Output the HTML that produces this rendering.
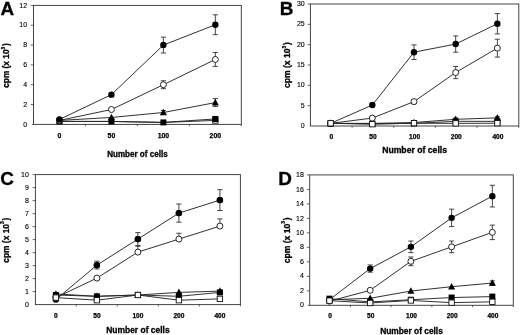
<!DOCTYPE html>
<html><head><meta charset="utf-8"><title>Figure</title>
<style>
html,body{margin:0;padding:0;background:#fff;width:520px;height:335px;overflow:hidden;}
svg{display:block;font-family:"Liberation Sans",sans-serif;filter:blur(0.35px);}
</style>
</head><body>
<svg width="520" height="335" viewBox="0 0 520 335">
<rect width="520" height="335" fill="#fff"/>
<g>
<text transform="translate(0.6,15.30) scale(1.05,1)" font-size="18" font-weight="bold" fill="#000" stroke="#000" stroke-width="0.3">A</text>
<rect x="33.5" y="5.4" width="207.80" height="119.00" fill="none" stroke="#3c3c3c" stroke-width="0.95"/>
<line x1="32.00" y1="124.40" x2="33.5" y2="124.40" stroke="#262626" stroke-width="0.7"/>
<text x="27.10" y="126.55" font-size="7" text-anchor="end" fill="#000" stroke="#000" stroke-width="0.12">0</text>
<line x1="30.70" y1="104.57" x2="33.5" y2="104.57" stroke="#262626" stroke-width="0.7"/>
<text x="27.10" y="106.72" font-size="7" text-anchor="end" fill="#000" stroke="#000" stroke-width="0.12">2</text>
<line x1="30.70" y1="84.73" x2="33.5" y2="84.73" stroke="#262626" stroke-width="0.7"/>
<text x="27.10" y="86.88" font-size="7" text-anchor="end" fill="#000" stroke="#000" stroke-width="0.12">4</text>
<line x1="30.70" y1="64.90" x2="33.5" y2="64.90" stroke="#262626" stroke-width="0.7"/>
<text x="27.10" y="67.05" font-size="7" text-anchor="end" fill="#000" stroke="#000" stroke-width="0.12">6</text>
<line x1="30.70" y1="45.07" x2="33.5" y2="45.07" stroke="#262626" stroke-width="0.7"/>
<text x="27.10" y="47.22" font-size="7" text-anchor="end" fill="#000" stroke="#000" stroke-width="0.12">8</text>
<line x1="30.70" y1="25.23" x2="33.5" y2="25.23" stroke="#262626" stroke-width="0.7"/>
<text x="27.10" y="27.38" font-size="7" text-anchor="end" fill="#000" stroke="#000" stroke-width="0.12">10</text>
<line x1="30.70" y1="5.40" x2="33.5" y2="5.40" stroke="#262626" stroke-width="0.7"/>
<text x="27.10" y="7.55" font-size="7" text-anchor="end" fill="#000" stroke="#000" stroke-width="0.12">12</text>
<line x1="85.45" y1="124.4" x2="85.45" y2="126.20" stroke="#262626" stroke-width="0.7"/>
<line x1="137.40" y1="124.4" x2="137.40" y2="126.20" stroke="#262626" stroke-width="0.7"/>
<line x1="189.35" y1="124.4" x2="189.35" y2="126.20" stroke="#262626" stroke-width="0.7"/>
<line x1="241.30" y1="124.4" x2="241.30" y2="126.20" stroke="#262626" stroke-width="0.7"/>
<text x="59.48" y="137.50" font-size="6.9" font-weight="bold" text-anchor="middle" fill="#000" stroke="#000" stroke-width="0.25">0</text>
<text x="111.43" y="137.50" font-size="6.9" font-weight="bold" text-anchor="middle" fill="#000" stroke="#000" stroke-width="0.25">50</text>
<text x="163.38" y="137.50" font-size="6.9" font-weight="bold" text-anchor="middle" fill="#000" stroke="#000" stroke-width="0.25">100</text>
<text x="215.33" y="137.50" font-size="6.9" font-weight="bold" text-anchor="middle" fill="#000" stroke="#000" stroke-width="0.25">200</text>
<text transform="translate(137.40,157.2) scale(0.972,1)" font-size="8.3" font-weight="bold" text-anchor="middle" fill="#000" stroke="#000" stroke-width="0.3">Number of cells</text>
<text transform="translate(9.2,65.50) rotate(-90)" font-size="8.30" font-weight="bold" text-anchor="middle" fill="#000" stroke="#000" stroke-width="0.3">cpm (x 10<tspan font-size="4.77" dy="-4.67">3</tspan><tspan dx="0.83" dy="4.67">)</tspan></text>
<polyline points="59.48,121.43 111.43,121.43 163.38,122.42 215.33,120.43" fill="none" stroke="#262626" stroke-width="0.95"/>
<rect x="212.63" y="117.73" width="5.4" height="5.4" fill="#fff" stroke="#111" stroke-width="0.9"/>
<polyline points="59.48,121.43 111.43,121.43 163.38,122.42 215.33,118.95" fill="none" stroke="#262626" stroke-width="0.95"/>
<rect x="56.48" y="118.43" width="6" height="6" fill="#000"/>
<rect x="108.43" y="118.43" width="6" height="6" fill="#000"/>
<rect x="160.38" y="119.42" width="6" height="6" fill="#000"/>
<rect x="212.33" y="115.95" width="6" height="6" fill="#000"/>
<polyline points="59.48,120.43 111.43,117.46 163.38,112.50 215.33,102.58" fill="none" stroke="#262626" stroke-width="0.95"/>
<path d="M163.38 110.52V114.48M160.78 110.52h5.2M160.78 114.48h5.2" stroke="#262626" stroke-width="0.85" fill="none"/>
<path d="M215.33 98.62V106.55M212.73 98.62h5.2M212.73 106.55h5.2" stroke="#262626" stroke-width="0.85" fill="none"/>
<path d="M59.48 116.63L62.98 123.23H55.98Z" fill="#000"/>
<path d="M111.43 113.66L114.93 120.26H107.93Z" fill="#000"/>
<path d="M163.38 108.70L166.88 115.30H159.88Z" fill="#000"/>
<path d="M215.33 98.78L218.83 105.38H211.83Z" fill="#000"/>
<polyline points="59.48,120.43 111.43,109.53 163.38,84.73 215.33,59.45" fill="none" stroke="#262626" stroke-width="0.95"/>
<path d="M163.38 80.77V88.70M160.78 80.77h5.2M160.78 88.70h5.2" stroke="#262626" stroke-width="0.85" fill="none"/>
<path d="M215.33 52.50V66.39M212.73 52.50h5.2M212.73 66.39h5.2" stroke="#262626" stroke-width="0.85" fill="none"/>
<circle cx="59.48" cy="120.43" r="3.0" fill="#fff" stroke="#111" stroke-width="0.9"/>
<circle cx="111.43" cy="109.53" r="3.0" fill="#fff" stroke="#111" stroke-width="0.9"/>
<circle cx="163.38" cy="84.73" r="3.0" fill="#fff" stroke="#111" stroke-width="0.9"/>
<circle cx="215.33" cy="59.45" r="3.0" fill="#fff" stroke="#111" stroke-width="0.9"/>
<polyline points="59.48,119.44 111.43,94.65 163.38,45.07 215.33,24.74" fill="none" stroke="#262626" stroke-width="0.95"/>
<path d="M163.38 37.13V53.00M160.78 37.13h5.2M160.78 53.00h5.2" stroke="#262626" stroke-width="0.85" fill="none"/>
<path d="M215.33 14.82V34.65M212.73 14.82h5.2M212.73 34.65h5.2" stroke="#262626" stroke-width="0.85" fill="none"/>
<circle cx="59.48" cy="119.44" r="3.2" fill="#000"/>
<circle cx="111.43" cy="94.65" r="3.2" fill="#000"/>
<circle cx="163.38" cy="45.07" r="3.2" fill="#000"/>
<circle cx="215.33" cy="24.74" r="3.2" fill="#000"/>
</g>
<g>
<text transform="translate(279.7,14.70) scale(1.05,1)" font-size="18" font-weight="bold" fill="#000" stroke="#000" stroke-width="0.3">B</text>
<rect x="310.4" y="4.0" width="208.40" height="122.00" fill="none" stroke="#3c3c3c" stroke-width="0.95"/>
<text x="304.70" y="128.15" font-size="7" text-anchor="end" fill="#000" stroke="#000" stroke-width="0.12">0</text>
<line x1="307.60" y1="105.67" x2="310.4" y2="105.67" stroke="#262626" stroke-width="0.7"/>
<text x="304.70" y="107.82" font-size="7" text-anchor="end" fill="#000" stroke="#000" stroke-width="0.12">5</text>
<line x1="307.60" y1="85.33" x2="310.4" y2="85.33" stroke="#262626" stroke-width="0.7"/>
<text x="304.70" y="87.48" font-size="7" text-anchor="end" fill="#000" stroke="#000" stroke-width="0.12">10</text>
<line x1="307.60" y1="65.00" x2="310.4" y2="65.00" stroke="#262626" stroke-width="0.7"/>
<text x="304.70" y="67.15" font-size="7" text-anchor="end" fill="#000" stroke="#000" stroke-width="0.12">15</text>
<line x1="307.60" y1="44.67" x2="310.4" y2="44.67" stroke="#262626" stroke-width="0.7"/>
<text x="304.70" y="46.82" font-size="7" text-anchor="end" fill="#000" stroke="#000" stroke-width="0.12">20</text>
<line x1="307.60" y1="24.33" x2="310.4" y2="24.33" stroke="#262626" stroke-width="0.7"/>
<text x="304.70" y="26.48" font-size="7" text-anchor="end" fill="#000" stroke="#000" stroke-width="0.12">25</text>
<line x1="307.60" y1="4.00" x2="310.4" y2="4.00" stroke="#262626" stroke-width="0.7"/>
<text x="304.70" y="6.15" font-size="7" text-anchor="end" fill="#000" stroke="#000" stroke-width="0.12">30</text>
<line x1="352.08" y1="126" x2="352.08" y2="127.80" stroke="#262626" stroke-width="0.7"/>
<line x1="393.76" y1="126" x2="393.76" y2="127.80" stroke="#262626" stroke-width="0.7"/>
<line x1="435.44" y1="126" x2="435.44" y2="127.80" stroke="#262626" stroke-width="0.7"/>
<line x1="477.12" y1="126" x2="477.12" y2="127.80" stroke="#262626" stroke-width="0.7"/>
<line x1="518.80" y1="126" x2="518.80" y2="127.80" stroke="#262626" stroke-width="0.7"/>
<text x="331.24" y="139.10" font-size="6.6" font-weight="bold" text-anchor="middle" fill="#000" stroke="#000" stroke-width="0.25">0</text>
<text x="372.92" y="139.10" font-size="6.6" font-weight="bold" text-anchor="middle" fill="#000" stroke="#000" stroke-width="0.25">50</text>
<text x="414.60" y="139.10" font-size="6.6" font-weight="bold" text-anchor="middle" fill="#000" stroke="#000" stroke-width="0.25">100</text>
<text x="456.28" y="139.10" font-size="6.6" font-weight="bold" text-anchor="middle" fill="#000" stroke="#000" stroke-width="0.25">200</text>
<text x="497.96" y="139.10" font-size="6.6" font-weight="bold" text-anchor="middle" fill="#000" stroke="#000" stroke-width="0.25">400</text>
<text transform="translate(414.60,153.4) scale(1.007,1)" font-size="8.6" font-weight="bold" text-anchor="middle" fill="#000" stroke="#000" stroke-width="0.3">Number of cells</text>
<text transform="translate(290.3,65.00) rotate(-90)" font-size="8.56" font-weight="bold" text-anchor="middle" fill="#000" stroke="#000" stroke-width="0.3">cpm (x 10<tspan font-size="4.92" dy="-4.81">3</tspan><tspan dx="0.86" dy="4.81">)</tspan></text>
<polyline points="330.64,123.37 372.32,123.37 414.00,122.55 455.68,119.30 497.36,117.88" fill="none" stroke="#262626" stroke-width="0.95"/>
<path d="M455.68 118.08V120.52M453.08 118.08h5.2M453.08 120.52h5.2" stroke="#262626" stroke-width="0.85" fill="none"/>
<path d="M497.36 116.66V119.10M494.76 116.66h5.2M494.76 119.10h5.2" stroke="#262626" stroke-width="0.85" fill="none"/>
<path d="M330.64 119.57L334.14 126.17H327.14Z" fill="#000"/>
<path d="M372.32 119.57L375.82 126.17H368.82Z" fill="#000"/>
<path d="M414.00 118.75L417.50 125.35H410.50Z" fill="#000"/>
<path d="M455.68 115.50L459.18 122.10H452.18Z" fill="#000"/>
<path d="M497.36 114.08L500.86 120.68H493.86Z" fill="#000"/>
<polyline points="330.64,123.37 372.32,123.77 414.00,123.37 455.68,121.33 497.36,121.33" fill="none" stroke="#262626" stroke-width="0.95"/>
<rect x="327.64" y="120.37" width="6" height="6" fill="#000"/>
<rect x="369.32" y="120.77" width="6" height="6" fill="#000"/>
<rect x="411.00" y="120.37" width="6" height="6" fill="#000"/>
<rect x="452.68" y="118.33" width="6" height="6" fill="#000"/>
<rect x="494.36" y="118.33" width="6" height="6" fill="#000"/>
<polyline points="330.64,123.37 372.32,118.08 414.00,101.61 455.68,72.53 497.36,48.13" fill="none" stroke="#262626" stroke-width="0.95"/>
<path d="M414.00 99.58V103.64M411.40 99.58h5.2M411.40 103.64h5.2" stroke="#262626" stroke-width="0.85" fill="none"/>
<path d="M455.68 66.43V78.63M453.08 66.43h5.2M453.08 78.63h5.2" stroke="#262626" stroke-width="0.85" fill="none"/>
<path d="M497.36 39.19V57.08M494.76 39.19h5.2M494.76 57.08h5.2" stroke="#262626" stroke-width="0.85" fill="none"/>
<circle cx="330.64" cy="123.37" r="3.0" fill="#fff" stroke="#111" stroke-width="0.9"/>
<circle cx="372.32" cy="118.08" r="3.0" fill="#fff" stroke="#111" stroke-width="0.9"/>
<circle cx="414.00" cy="101.61" r="3.0" fill="#fff" stroke="#111" stroke-width="0.9"/>
<circle cx="455.68" cy="72.53" r="3.0" fill="#fff" stroke="#111" stroke-width="0.9"/>
<circle cx="497.36" cy="48.13" r="3.0" fill="#fff" stroke="#111" stroke-width="0.9"/>
<polyline points="330.64,123.37 372.32,105.07 414.00,52.20 455.68,44.07 497.36,23.73" fill="none" stroke="#262626" stroke-width="0.95"/>
<path d="M414.00 44.88V59.52M411.40 44.88h5.2M411.40 59.52h5.2" stroke="#262626" stroke-width="0.85" fill="none"/>
<path d="M455.68 35.93V52.20M453.08 35.93h5.2M453.08 52.20h5.2" stroke="#262626" stroke-width="0.85" fill="none"/>
<path d="M497.36 13.57V33.90M494.76 13.57h5.2M494.76 33.90h5.2" stroke="#262626" stroke-width="0.85" fill="none"/>
<circle cx="330.64" cy="123.37" r="3.2" fill="#000"/>
<circle cx="372.32" cy="105.07" r="3.2" fill="#000"/>
<circle cx="414.00" cy="52.20" r="3.2" fill="#000"/>
<circle cx="455.68" cy="44.07" r="3.2" fill="#000"/>
<circle cx="497.36" cy="23.73" r="3.2" fill="#000"/>
<polyline points="330.64,123.29 372.32,124.18 414.00,123.16 455.68,123.37 497.36,123.20" fill="none" stroke="#262626" stroke-width="0.95"/>
<rect x="327.94" y="120.59" width="5.4" height="5.4" fill="#fff" stroke="#111" stroke-width="0.9"/>
<rect x="369.62" y="121.48" width="5.4" height="5.4" fill="#fff" stroke="#111" stroke-width="0.9"/>
<rect x="411.30" y="120.46" width="5.4" height="5.4" fill="#fff" stroke="#111" stroke-width="0.9"/>
<rect x="452.98" y="120.67" width="5.4" height="5.4" fill="#fff" stroke="#111" stroke-width="0.9"/>
<rect x="494.66" y="120.50" width="5.4" height="5.4" fill="#fff" stroke="#111" stroke-width="0.9"/>
</g>
<g>
<text transform="translate(0.2,185.20) scale(1.05,1)" font-size="18" font-weight="bold" fill="#000" stroke="#000" stroke-width="0.3">C</text>
<rect x="35.4" y="174.6" width="205.00" height="130.00" fill="none" stroke="#3c3c3c" stroke-width="0.95"/>
<line x1="35.00" y1="304.60" x2="35.4" y2="304.60" stroke="#262626" stroke-width="0.7"/>
<text x="28.80" y="306.75" font-size="7" text-anchor="end" fill="#000" stroke="#000" stroke-width="0.12">0</text>
<line x1="32.60" y1="291.60" x2="35.4" y2="291.60" stroke="#262626" stroke-width="0.7"/>
<text x="28.80" y="293.75" font-size="7" text-anchor="end" fill="#000" stroke="#000" stroke-width="0.12">1</text>
<line x1="32.60" y1="278.60" x2="35.4" y2="278.60" stroke="#262626" stroke-width="0.7"/>
<text x="28.80" y="280.75" font-size="7" text-anchor="end" fill="#000" stroke="#000" stroke-width="0.12">2</text>
<line x1="32.60" y1="265.60" x2="35.4" y2="265.60" stroke="#262626" stroke-width="0.7"/>
<text x="28.80" y="267.75" font-size="7" text-anchor="end" fill="#000" stroke="#000" stroke-width="0.12">3</text>
<line x1="32.60" y1="252.60" x2="35.4" y2="252.60" stroke="#262626" stroke-width="0.7"/>
<text x="28.80" y="254.75" font-size="7" text-anchor="end" fill="#000" stroke="#000" stroke-width="0.12">4</text>
<line x1="32.60" y1="239.60" x2="35.4" y2="239.60" stroke="#262626" stroke-width="0.7"/>
<text x="28.80" y="241.75" font-size="7" text-anchor="end" fill="#000" stroke="#000" stroke-width="0.12">5</text>
<line x1="32.60" y1="226.60" x2="35.4" y2="226.60" stroke="#262626" stroke-width="0.7"/>
<text x="28.80" y="228.75" font-size="7" text-anchor="end" fill="#000" stroke="#000" stroke-width="0.12">6</text>
<line x1="32.60" y1="213.60" x2="35.4" y2="213.60" stroke="#262626" stroke-width="0.7"/>
<text x="28.80" y="215.75" font-size="7" text-anchor="end" fill="#000" stroke="#000" stroke-width="0.12">7</text>
<line x1="32.60" y1="200.60" x2="35.4" y2="200.60" stroke="#262626" stroke-width="0.7"/>
<text x="28.80" y="202.75" font-size="7" text-anchor="end" fill="#000" stroke="#000" stroke-width="0.12">8</text>
<line x1="32.60" y1="187.60" x2="35.4" y2="187.60" stroke="#262626" stroke-width="0.7"/>
<text x="28.80" y="189.75" font-size="7" text-anchor="end" fill="#000" stroke="#000" stroke-width="0.12">9</text>
<line x1="32.60" y1="174.60" x2="35.4" y2="174.60" stroke="#262626" stroke-width="0.7"/>
<text x="28.80" y="176.75" font-size="7" text-anchor="end" fill="#000" stroke="#000" stroke-width="0.12">10</text>
<line x1="76.40" y1="304.6" x2="76.40" y2="306.40" stroke="#262626" stroke-width="0.7"/>
<line x1="117.40" y1="304.6" x2="117.40" y2="306.40" stroke="#262626" stroke-width="0.7"/>
<line x1="158.40" y1="304.6" x2="158.40" y2="306.40" stroke="#262626" stroke-width="0.7"/>
<line x1="199.40" y1="304.6" x2="199.40" y2="306.40" stroke="#262626" stroke-width="0.7"/>
<line x1="240.40" y1="304.6" x2="240.40" y2="306.40" stroke="#262626" stroke-width="0.7"/>
<text x="55.90" y="317.70" font-size="6.6" font-weight="bold" text-anchor="middle" fill="#000" stroke="#000" stroke-width="0.25">0</text>
<text x="96.90" y="317.70" font-size="6.6" font-weight="bold" text-anchor="middle" fill="#000" stroke="#000" stroke-width="0.25">50</text>
<text x="137.90" y="317.70" font-size="6.6" font-weight="bold" text-anchor="middle" fill="#000" stroke="#000" stroke-width="0.25">100</text>
<text x="178.90" y="317.70" font-size="6.6" font-weight="bold" text-anchor="middle" fill="#000" stroke="#000" stroke-width="0.25">200</text>
<text x="219.90" y="317.70" font-size="6.6" font-weight="bold" text-anchor="middle" fill="#000" stroke="#000" stroke-width="0.25">400</text>
<text transform="translate(137.90,332.7) scale(0.984,1)" font-size="8.6" font-weight="bold" text-anchor="middle" fill="#000" stroke="#000" stroke-width="0.3">Number of cells</text>
<text transform="translate(9.2,240.20) rotate(-90)" font-size="8.37" font-weight="bold" text-anchor="middle" fill="#000" stroke="#000" stroke-width="0.3">cpm (x 10<tspan font-size="4.81" dy="-4.71">3</tspan><tspan dx="0.84" dy="4.71">)</tspan></text>
<polyline points="55.90,299.55 96.90,265.10 137.90,239.10 178.90,213.10 219.90,200.10" fill="none" stroke="#262626" stroke-width="0.95"/>
<path d="M96.90 261.20V269.00M94.30 261.20h5.2M94.30 269.00h5.2" stroke="#262626" stroke-width="0.85" fill="none"/>
<path d="M137.90 232.60V245.60M135.30 232.60h5.2M135.30 245.60h5.2" stroke="#262626" stroke-width="0.85" fill="none"/>
<path d="M178.90 204.00V222.20M176.30 204.00h5.2M176.30 222.20h5.2" stroke="#262626" stroke-width="0.85" fill="none"/>
<path d="M219.90 189.70V210.50M217.30 189.70h5.2M217.30 210.50h5.2" stroke="#262626" stroke-width="0.85" fill="none"/>
<circle cx="55.90" cy="299.55" r="3.2" fill="#000"/>
<circle cx="96.90" cy="265.10" r="3.2" fill="#000"/>
<circle cx="137.90" cy="239.10" r="3.2" fill="#000"/>
<circle cx="178.90" cy="213.10" r="3.2" fill="#000"/>
<circle cx="219.90" cy="200.10" r="3.2" fill="#000"/>
<polyline points="55.90,293.96 96.90,296.30 137.90,295.00 178.90,292.40 219.90,291.10" fill="none" stroke="#262626" stroke-width="0.95"/>
<path d="M55.90 290.16L59.40 296.76H52.40Z" fill="#000"/>
<path d="M96.90 292.50L100.40 299.10H93.40Z" fill="#000"/>
<path d="M137.90 291.20L141.40 297.80H134.40Z" fill="#000"/>
<path d="M178.90 288.60L182.40 295.20H175.40Z" fill="#000"/>
<path d="M219.90 287.30L223.40 293.90H216.40Z" fill="#000"/>
<polyline points="55.90,295.00 96.90,296.30 137.90,295.00 178.90,296.30 219.90,292.40" fill="none" stroke="#262626" stroke-width="0.95"/>
<rect x="52.90" y="292.00" width="6" height="6" fill="#000"/>
<rect x="93.90" y="293.30" width="6" height="6" fill="#000"/>
<rect x="134.90" y="292.00" width="6" height="6" fill="#000"/>
<rect x="175.90" y="293.30" width="6" height="6" fill="#000"/>
<rect x="216.90" y="289.40" width="6" height="6" fill="#000"/>
<polyline points="55.90,297.60 96.90,278.10 137.90,252.10 178.90,239.10 219.90,226.10" fill="none" stroke="#262626" stroke-width="0.95"/>
<path d="M137.90 246.25V252.10M135.30 246.25h5.2" stroke="#262626" stroke-width="0.85" fill="none"/>
<path d="M178.90 233.25V239.10M176.30 233.25h5.2" stroke="#262626" stroke-width="0.85" fill="none"/>
<path d="M219.90 218.95V226.10M217.30 218.95h5.2" stroke="#262626" stroke-width="0.85" fill="none"/>
<circle cx="55.90" cy="297.60" r="3.0" fill="#fff" stroke="#111" stroke-width="0.9"/>
<circle cx="96.90" cy="278.10" r="3.0" fill="#fff" stroke="#111" stroke-width="0.9"/>
<circle cx="137.90" cy="252.10" r="3.0" fill="#fff" stroke="#111" stroke-width="0.9"/>
<circle cx="178.90" cy="239.10" r="3.0" fill="#fff" stroke="#111" stroke-width="0.9"/>
<circle cx="219.90" cy="226.10" r="3.0" fill="#fff" stroke="#111" stroke-width="0.9"/>
<circle cx="96.90" cy="265.10" r="3.2" fill="#000"/>
<circle cx="137.90" cy="239.10" r="3.2" fill="#000"/>
<circle cx="178.90" cy="213.10" r="3.2" fill="#000"/>
<circle cx="219.90" cy="200.10" r="3.2" fill="#000"/>
<polyline points="55.90,297.60 96.90,300.20 137.90,295.00 178.90,300.20 219.90,298.90" fill="none" stroke="#262626" stroke-width="0.95"/>
<rect x="53.20" y="294.90" width="5.4" height="5.4" fill="#fff" stroke="#111" stroke-width="0.9"/>
<rect x="94.20" y="297.50" width="5.4" height="5.4" fill="#fff" stroke="#111" stroke-width="0.9"/>
<rect x="135.20" y="292.30" width="5.4" height="5.4" fill="#fff" stroke="#111" stroke-width="0.9"/>
<rect x="176.20" y="297.50" width="5.4" height="5.4" fill="#fff" stroke="#111" stroke-width="0.9"/>
<rect x="217.20" y="296.20" width="5.4" height="5.4" fill="#fff" stroke="#111" stroke-width="0.9"/>
</g>
<g>
<text transform="translate(278.3,185.40) scale(1.05,1)" font-size="18" font-weight="bold" fill="#000" stroke="#000" stroke-width="0.3">D</text>
<rect x="309.7" y="174.9" width="203.60" height="130.40" fill="none" stroke="#3c3c3c" stroke-width="0.95"/>
<line x1="307.70" y1="305.30" x2="309.7" y2="305.30" stroke="#262626" stroke-width="0.7"/>
<text x="303.90" y="307.45" font-size="7" text-anchor="end" fill="#000" stroke="#000" stroke-width="0.12">0</text>
<line x1="306.90" y1="290.81" x2="309.7" y2="290.81" stroke="#262626" stroke-width="0.7"/>
<text x="303.90" y="292.96" font-size="7" text-anchor="end" fill="#000" stroke="#000" stroke-width="0.12">2</text>
<line x1="306.90" y1="276.32" x2="309.7" y2="276.32" stroke="#262626" stroke-width="0.7"/>
<text x="303.90" y="278.47" font-size="7" text-anchor="end" fill="#000" stroke="#000" stroke-width="0.12">4</text>
<line x1="306.90" y1="261.83" x2="309.7" y2="261.83" stroke="#262626" stroke-width="0.7"/>
<text x="303.90" y="263.98" font-size="7" text-anchor="end" fill="#000" stroke="#000" stroke-width="0.12">6</text>
<line x1="306.90" y1="247.34" x2="309.7" y2="247.34" stroke="#262626" stroke-width="0.7"/>
<text x="303.90" y="249.49" font-size="7" text-anchor="end" fill="#000" stroke="#000" stroke-width="0.12">8</text>
<line x1="306.90" y1="232.86" x2="309.7" y2="232.86" stroke="#262626" stroke-width="0.7"/>
<text x="303.90" y="235.01" font-size="7" text-anchor="end" fill="#000" stroke="#000" stroke-width="0.12">10</text>
<line x1="306.90" y1="218.37" x2="309.7" y2="218.37" stroke="#262626" stroke-width="0.7"/>
<text x="303.90" y="220.52" font-size="7" text-anchor="end" fill="#000" stroke="#000" stroke-width="0.12">12</text>
<line x1="306.90" y1="203.88" x2="309.7" y2="203.88" stroke="#262626" stroke-width="0.7"/>
<text x="303.90" y="206.03" font-size="7" text-anchor="end" fill="#000" stroke="#000" stroke-width="0.12">14</text>
<line x1="306.90" y1="189.39" x2="309.7" y2="189.39" stroke="#262626" stroke-width="0.7"/>
<text x="303.90" y="191.54" font-size="7" text-anchor="end" fill="#000" stroke="#000" stroke-width="0.12">16</text>
<line x1="306.90" y1="174.90" x2="309.7" y2="174.90" stroke="#262626" stroke-width="0.7"/>
<text x="303.90" y="177.05" font-size="7" text-anchor="end" fill="#000" stroke="#000" stroke-width="0.12">18</text>
<line x1="350.42" y1="305.3" x2="350.42" y2="307.10" stroke="#262626" stroke-width="0.7"/>
<line x1="391.14" y1="305.3" x2="391.14" y2="307.10" stroke="#262626" stroke-width="0.7"/>
<line x1="431.86" y1="305.3" x2="431.86" y2="307.10" stroke="#262626" stroke-width="0.7"/>
<line x1="472.58" y1="305.3" x2="472.58" y2="307.10" stroke="#262626" stroke-width="0.7"/>
<line x1="513.30" y1="305.3" x2="513.30" y2="307.10" stroke="#262626" stroke-width="0.7"/>
<text x="330.06" y="318.40" font-size="6.6" font-weight="bold" text-anchor="middle" fill="#000" stroke="#000" stroke-width="0.25">0</text>
<text x="370.78" y="318.40" font-size="6.6" font-weight="bold" text-anchor="middle" fill="#000" stroke="#000" stroke-width="0.25">50</text>
<text x="411.50" y="318.40" font-size="6.6" font-weight="bold" text-anchor="middle" fill="#000" stroke="#000" stroke-width="0.25">100</text>
<text x="452.22" y="318.40" font-size="6.6" font-weight="bold" text-anchor="middle" fill="#000" stroke="#000" stroke-width="0.25">200</text>
<text x="492.94" y="318.40" font-size="6.6" font-weight="bold" text-anchor="middle" fill="#000" stroke="#000" stroke-width="0.25">400</text>
<text transform="translate(411.50,333.6) scale(0.973,1)" font-size="8.6" font-weight="bold" text-anchor="middle" fill="#000" stroke="#000" stroke-width="0.3">Number of cells</text>
<text transform="translate(289.8,240.30) rotate(-90)" font-size="8.56" font-weight="bold" text-anchor="middle" fill="#000" stroke="#000" stroke-width="0.3">cpm (x 10<tspan font-size="4.92" dy="-4.81">3</tspan><tspan dx="0.86" dy="4.81">)</tspan></text>
<polyline points="329.46,299.73 370.18,298.28 410.90,291.04 451.62,286.69 492.34,283.07" fill="none" stroke="#262626" stroke-width="0.95"/>
<path d="M492.34 280.89V285.24M489.74 280.89h5.2M489.74 285.24h5.2" stroke="#262626" stroke-width="0.85" fill="none"/>
<path d="M329.46 295.93L332.96 302.53H325.96Z" fill="#000"/>
<path d="M370.18 294.48L373.68 301.08H366.68Z" fill="#000"/>
<path d="M410.90 287.24L414.40 293.84H407.40Z" fill="#000"/>
<path d="M451.62 282.89L455.12 289.49H448.12Z" fill="#000"/>
<path d="M492.34 279.27L495.84 285.87H488.84Z" fill="#000"/>
<polyline points="329.46,298.64 370.18,301.90 410.90,299.73 451.62,297.56 492.34,296.61" fill="none" stroke="#262626" stroke-width="0.95"/>
<rect x="326.46" y="295.64" width="6" height="6" fill="#000"/>
<rect x="367.18" y="298.90" width="6" height="6" fill="#000"/>
<rect x="407.90" y="296.73" width="6" height="6" fill="#000"/>
<rect x="448.62" y="294.56" width="6" height="6" fill="#000"/>
<rect x="489.34" y="293.61" width="6" height="6" fill="#000"/>
<polyline points="329.46,301.18 370.18,290.31 410.90,261.33 451.62,246.84 492.34,232.36" fill="none" stroke="#262626" stroke-width="0.95"/>
<path d="M410.90 256.99V265.68M408.30 256.99h5.2M408.30 265.68h5.2" stroke="#262626" stroke-width="0.85" fill="none"/>
<path d="M451.62 241.05V252.64M449.02 241.05h5.2M449.02 252.64h5.2" stroke="#262626" stroke-width="0.85" fill="none"/>
<path d="M492.34 225.11V239.60M489.74 225.11h5.2M489.74 239.60h5.2" stroke="#262626" stroke-width="0.85" fill="none"/>
<circle cx="329.46" cy="301.18" r="3.0" fill="#fff" stroke="#111" stroke-width="0.9"/>
<circle cx="370.18" cy="290.31" r="3.0" fill="#fff" stroke="#111" stroke-width="0.9"/>
<circle cx="410.90" cy="261.33" r="3.0" fill="#fff" stroke="#111" stroke-width="0.9"/>
<circle cx="451.62" cy="246.84" r="3.0" fill="#fff" stroke="#111" stroke-width="0.9"/>
<circle cx="492.34" cy="232.36" r="3.0" fill="#fff" stroke="#111" stroke-width="0.9"/>
<polyline points="329.46,299.73 370.18,268.58 410.90,246.84 451.62,217.87 492.34,196.13" fill="none" stroke="#262626" stroke-width="0.95"/>
<path d="M370.18 264.96V272.20M367.58 264.96h5.2M367.58 272.20h5.2" stroke="#262626" stroke-width="0.85" fill="none"/>
<path d="M410.90 241.05V252.64M408.30 241.05h5.2M408.30 252.64h5.2" stroke="#262626" stroke-width="0.85" fill="none"/>
<path d="M451.62 209.17V226.56M449.02 209.17h5.2M449.02 226.56h5.2" stroke="#262626" stroke-width="0.85" fill="none"/>
<path d="M492.34 185.27V207.00M489.74 185.27h5.2M489.74 207.00h5.2" stroke="#262626" stroke-width="0.85" fill="none"/>
<circle cx="329.46" cy="299.73" r="3.2" fill="#000"/>
<circle cx="370.18" cy="268.58" r="3.2" fill="#000"/>
<circle cx="410.90" cy="246.84" r="3.2" fill="#000"/>
<circle cx="451.62" cy="217.87" r="3.2" fill="#000"/>
<circle cx="492.34" cy="196.13" r="3.2" fill="#000"/>
<polyline points="329.46,300.67 370.18,302.99 410.90,300.45 451.62,302.63 492.34,301.83" fill="none" stroke="#262626" stroke-width="0.95"/>
<rect x="326.76" y="297.97" width="5.4" height="5.4" fill="#fff" stroke="#111" stroke-width="0.9"/>
<rect x="367.48" y="300.29" width="5.4" height="5.4" fill="#fff" stroke="#111" stroke-width="0.9"/>
<rect x="408.20" y="297.75" width="5.4" height="5.4" fill="#fff" stroke="#111" stroke-width="0.9"/>
<rect x="448.92" y="299.93" width="5.4" height="5.4" fill="#fff" stroke="#111" stroke-width="0.9"/>
<rect x="489.64" y="299.13" width="5.4" height="5.4" fill="#fff" stroke="#111" stroke-width="0.9"/>
</g>
</svg>
</body></html>
